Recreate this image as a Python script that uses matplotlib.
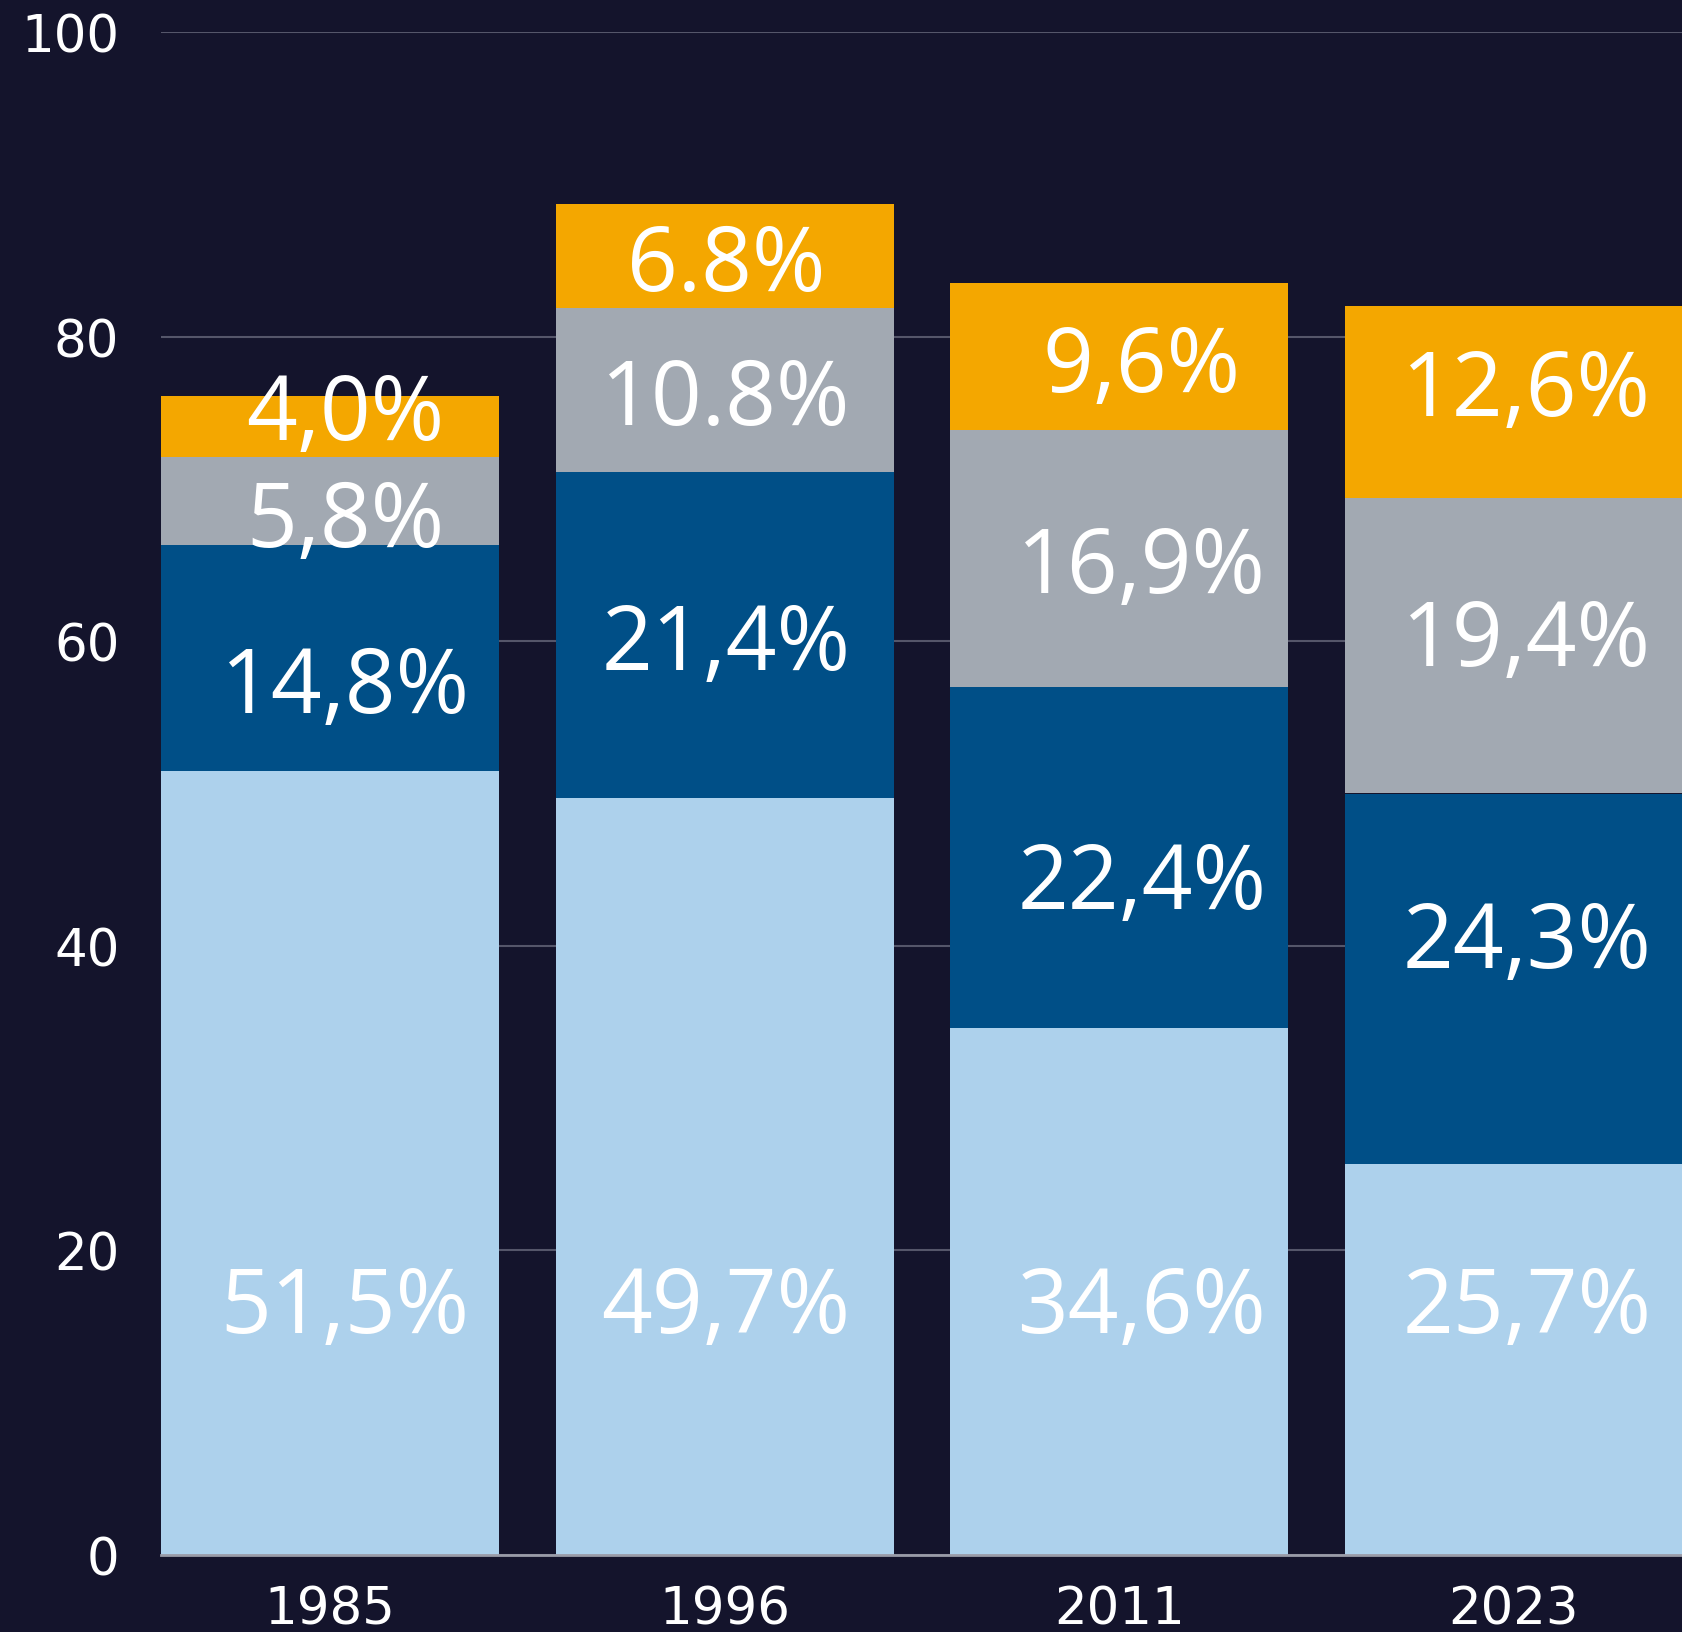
import matplotlib.pyplot as plt
import numpy as np

years = ['1985', '1996', '2011', '2023']
# stacked segments, bottom to top
light = [51.5, 49.7, 34.6, 25.7]
dark = [14.8, 21.4, 22.4, 24.3]
grey = [5.8, 10.8, 16.9, 19.4]
orange = [4.0, 6.8, 9.6, 12.6]
light_lbl = ['51,5%', '49,7%', '34,6%', '25,7%']
dark_lbl = ['14,8%', '21,4%', '22,4%', '24,3%']
grey_lbl = ['5,8%', '10.8%', '16,9%', '19,4%']
orange_lbl = ['4,0%', '6.8%', '9,6%', '12,6%']

bg = '#14142c'
fig = plt.figure(figsize=(16.83, 16.33), dpi=100, facecolor=bg)
ax = fig.add_axes([161/1683, 1-1556/1633, 1-161/1683, (1556-33)/1633])
ax.set_facecolor(bg)

x = np.arange(len(years))
w = 0.858
# small hand nudges of the value labels, like the original layout
x_nudge = [0.038, 0.003, 0.057, 0.033]
y_nudge = {(1, 0): -1.3, (2, 0): -0.7, (3, 0): 1.4, (1, 2): -1.1,
           (1, 3): 3.0, (3, 3): 1.4, (2, 3): 1.0}
series = [(light, '#add1ec', light_lbl), (dark, '#004f87', dark_lbl),
          (grey, '#a2a9b2', grey_lbl), (orange, '#f4a700', orange_lbl)]
bottom = np.zeros(len(years))
for i, (vals, col, lbls) in enumerate(series):
    vals = np.array(vals)
    ax.bar(x, vals, w, bottom=bottom, color=col, zorder=2)
    for j in range(len(years)):
        if i == 0:
            ty = 16.9
        else:
            ty = bottom[j] + vals[j] / 2 + y_nudge.get((i, j), 0)
        ax.text(x[j] + x_nudge[j], ty, lbls[j], ha='center', va='center_baseline',
                color='white', fontsize=64, family='Open Sans', zorder=3)
    bottom = bottom + vals

ax.set_xlim(-w/2, 3 + w/2)
ax.set_ylim(0, 100)
ax.set_yticks([0, 20, 40, 60, 80, 100])
ax.set_xticks(x)
ax.set_xticklabels(years)
ax.grid(axis='y', color='#55566a', linewidth=1.5, zorder=0)
ax.tick_params(axis='y', length=0, pad=30, labelsize=37, labelcolor='white')
ax.tick_params(axis='x', length=0, pad=21, labelsize=37, labelcolor='white')
for s in ['top', 'right', 'left']:
    ax.spines[s].set_visible(False)
ax.spines['bottom'].set_color('#9a9ca8')
ax.spines['bottom'].set_linewidth(2)
ax.spines['bottom'].set_zorder(4)

plt.savefig('out.png', dpi=100, facecolor=bg)
